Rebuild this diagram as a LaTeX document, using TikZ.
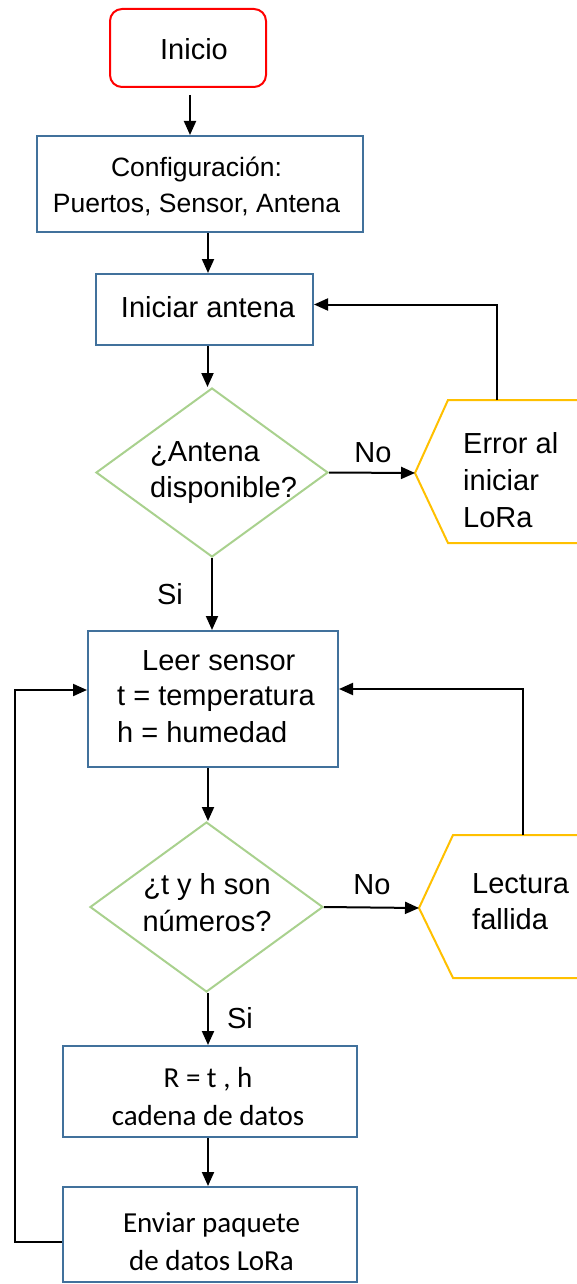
\documentclass[tikz,border=0pt]{standalone}
\usepackage{fontspec}
\setmainfont{Liberation Sans}
\newfontfamily\calibfont{Carlito}
\usetikzlibrary{arrows.meta,shapes.geometric}
\definecolor{boxblue}{HTML}{41719C}
\definecolor{decgreen}{HTML}{A9D18E}
\definecolor{warngold}{HTML}{FFC000}
\definecolor{startred}{HTML}{FF0000}
\begin{document}
\begin{tikzpicture}[x=1pt,y=-1pt,
  box/.style={draw=boxblue, line width=2pt, inner sep=0pt},
  decision/.style={draw=decgreen, line width=2pt, diamond, inner sep=0pt},
  warn/.style={draw=warngold, line width=2pt},
  lbl/.style={font=\fontsize{29}{35}\selectfont, inner sep=0pt},
  slbl/.style={font=\fontsize{26.5}{33}\selectfont, inner sep=0pt},
  clbl/.style={font=\calibfont\fontsize{29}{38}\selectfont, inner sep=0pt},
  flow/.style={line width=2pt, -{Triangle[length=14pt,width=12pt]}},
]
\useasboundingbox (0,0) rectangle (577,1284);

% start
\node[draw=startred, line width=2pt, rounded corners=12pt, inner sep=0pt,
      minimum width=156pt, minimum height=78pt] (inicio) at (188,48) {};
\node[lbl, anchor=base] (t-inicio) at (194,60) {Inicio};

% configuration
\node[box, minimum width=326pt, minimum height=96pt] (config) at (200,184) {};
\node[slbl, anchor=base] (t-config1) at (196.5,177) {Configuración:};
\node[slbl, anchor=base] (t-config2) at (196.5,212) {Puertos, Sensor, Antena};

% antenna start
\node[box, minimum width=217pt, minimum height=71pt] (iniciar) at (204.5,309.5) {};
\node[lbl, anchor=base] (t-iniciar) at (208,317) {Iniciar antena};

% antenna check
\node[decision, minimum width=232pt, minimum height=169pt] (d1) at (212,472.5) {};
\node[lbl, anchor=base west] (t-d1a) at (150,461) {¿Antena};
\node[lbl, anchor=base west] (t-d1b) at (150,497) {disponible?};

% LoRa error
\begin{scope}
  \clip (0,0) rectangle (577,1284);
  \draw[warn] (600,400) -- (448,400) -- (415,473) -- (448,543) -- (600,543);
\end{scope}
\coordinate (errW) at (415,473);
\coordinate (errTop) at (497,400);
\node[lbl, anchor=base west] (t-err1) at (463,453) {Error al};
\node[lbl, anchor=base west] (t-err2) at (463,490) {iniciar};
\node[lbl, anchor=base west] (t-err3) at (463,527) {LoRa};

% sensor reading
\node[box, minimum width=250pt, minimum height=136pt] (leer) at (213,699) {};
\node[lbl, anchor=base west] (t-leer1) at (142,670) {Leer sensor};
\node[lbl, anchor=base west] (t-leer2) at (117,705) {t = temperatura};
\node[lbl, anchor=base west] (t-leer3) at (117,742) {h = humedad};

% number check
\node[decision, minimum width=233pt, minimum height=170pt] (d2) at (206.5,907) {};
\node[lbl, anchor=base] (t-d2a) at (207,894) {¿t y h son};
\node[lbl, anchor=base] (t-d2b) at (207,931) {números?};

% failed reading
\begin{scope}
  \clip (0,0) rectangle (577,1284);
  \draw[warn] (600,835) -- (453,835) -- (419,908) -- (453,978) -- (600,978);
\end{scope}
\coordinate (lectW) at (419,908);
\coordinate (lectTop) at (523,835);
\node[lbl, anchor=base west] (t-lect1) at (472,893) {Lectura};
\node[lbl, anchor=base west] (t-lect2) at (472,929) {fallida};

% data string
\node[box, minimum width=294pt, minimum height=91pt] (rbox) at (210,1091.5) {};
\node[clbl, anchor=base] (t-r1) at (208,1087) {R = t , h};
\node[clbl, anchor=base] (t-r2) at (208,1125) {cadena de datos};

% send packet
\node[box, minimum width=294pt, minimum height=95pt] (env) at (210,1234.5) {};
\node[clbl, anchor=base] (t-env1) at (211.5,1232) {Enviar paquete};
\node[clbl, anchor=base] (t-env2) at (211.5,1270) {de datos LoRa};

% branch labels
\node[lbl, anchor=base] (no1) at (373,462) {No};
\node[lbl, anchor=base] (si1) at (170,604) {Si};
\node[lbl, anchor=base] (no2) at (372,894) {No};
\node[lbl, anchor=base] (si2) at (240,1028) {Si};

% connectors
\coordinate (loopL) at (15,690);
\draw[flow] ([xshift=2pt,yshift=-7pt]inicio.south) -- ([xshift=2pt]inicio.south |- config.north);
\draw[flow] ([xshift=3.5pt]iniciar.north |- config.south) -- ([xshift=3.5pt]iniciar.north);
\draw[flow] ([xshift=3pt]iniciar.south) -- ([xshift=3pt]iniciar.south |- d1.north);
\draw[flow] (d1.east) -- (errW);
\draw[flow] (errTop) |- ([yshift=5pt]iniciar.east);
\draw[flow] (d1.south) -- (d1.south |- leer.north);
\draw[flow] ([xshift=-5pt]leer.south) -- ([xshift=-5pt]leer.south |- d2.north);
\draw[flow] (d2.east) -- (lectW);
\draw[flow] (lectTop) |- ([yshift=10pt]leer.east);
\draw[flow] ([xshift=1.5pt]d2.south) -- ([xshift=1.5pt]d2.south |- rbox.north);
\draw[flow] ([xshift=-2pt]rbox.south) -- ([xshift=-2pt]env.north);
\draw[flow] ([yshift=-7.5pt]env.west) -| (loopL) -- (loopL -| leer.west);
\end{tikzpicture}
\end{document}
